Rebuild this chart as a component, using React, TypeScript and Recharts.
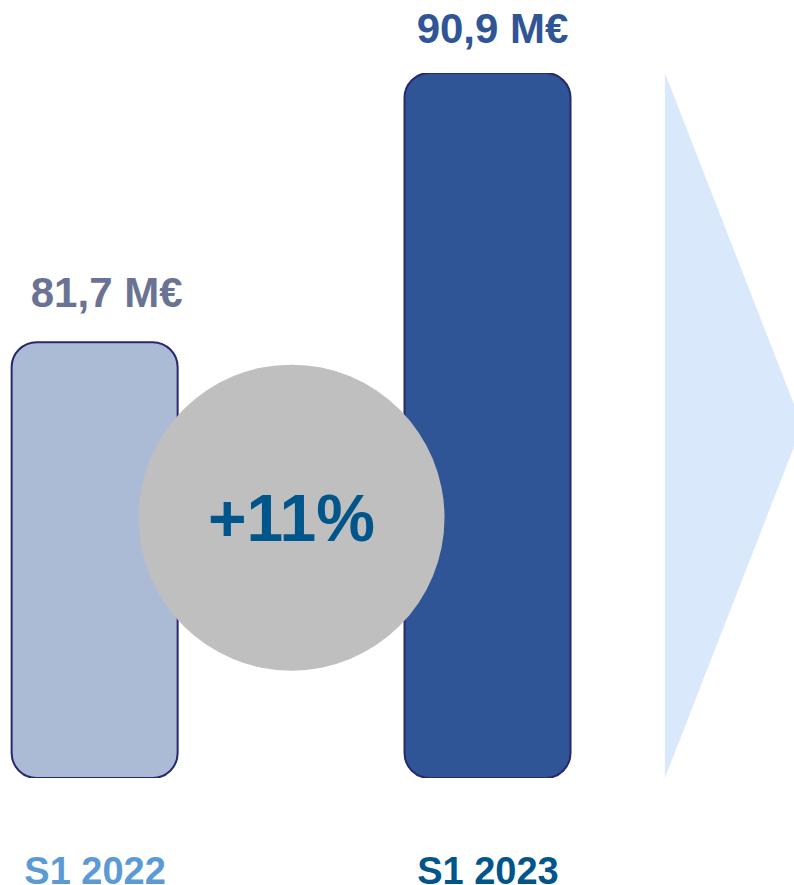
import React from 'react';
import { ComposedChart, Bar, Cell, XAxis, YAxis, ReferenceDot, ReferenceArea } from 'recharts';

const categories = ['S1 2022', 'S1 2023'];
const positions = [1, 2];
const values = [81.7, 90.9];
const valueLabels = ['81,7 M€', '90,9 M€'];
const growthLabel = '+11%';

const barFills = ['#abbbd6', '#2f5597'];
const valueLabelColors = ['#6b7394', '#2f5597'];
const categoryColors = ['#5b9bd5', '#00558b'];

const data = categories.map((c, i) => ({ name: c, x: positions[i], value: values[i], label: valueLabels[i] }));

const FONT = '"Liberation Sans", Arial, sans-serif';

const Triangle = (props: any) => {
  const { x, y, width, height } = props;
  const pts = `${x},${y} ${x + width},${y + height / 2} ${x},${y + height}`;
  return <polygon points={pts} fill="#dae8fc" stroke="none" />;
};

const CategoryTick = (props: any) => {
  const { x, y, payload } = props;
  const idx = positions.indexOf(payload.value);
  if (idx < 0) return null;
  return (
    <text x={x} y={y + 98} textAnchor="middle" fill={categoryColors[idx]} fontFamily={FONT} fontWeight="bold" fontSize={38}>
      {categories[idx]}
    </text>
  );
};

const ValueLabel = (props: any) => {
  const { x, y, width, index } = props;
  const dx = index === 0 ? 12 : 5;
  const dy = index === 0 ? -35 : -30;
  return (
    <text x={x + width / 2 + dx} y={y + dy} textAnchor="middle" fill={valueLabelColors[index]} fontFamily={FONT} fontWeight="bold" fontSize={42}>
      {valueLabels[index]}
    </text>
  );
};

export default function App() {
  return (
    <div style={{ position: 'absolute', left: 0, top: 0, width: 794, height: 885, background: '#fff' }}>
      <ComposedChart width={794} height={885} data={data} margin={{ top: 73, right: 0, bottom: 0, left: 0 }}>
        <XAxis
          type="number"
          dataKey="x"
          domain={[0.758, 2.779]}
          ticks={positions}
          axisLine={false}
          tickLine={false}
          height={107}
          tick={<CategoryTick />}
          allowDataOverflow
        />
        <YAxis type="number" domain={[66.8, 90.9]} hide allowDataOverflow />
        <ReferenceArea x1={2.4504} x2={2.8} y1={66.8} y2={90.9} ifOverflow="visible" shape={<Triangle />} />
        <Bar dataKey="value" barSize={166} radius={25} stroke="#28286e" strokeWidth={2} isAnimationActive={false} label={<ValueLabel />}>
          {data.map((d, i) => (
            <Cell key={d.name} fill={barFills[i]} />
          ))}
        </Bar>
        <ReferenceDot
          x={1.5}
          y={75.7}
          r={153}
          fill="#bfbfbf"
          stroke="none"
          ifOverflow="visible"
          label={{ value: growthLabel, position: 'center', fill: '#00558b', fontSize: 66, fontWeight: 'bold', fontFamily: FONT }}
        />
      </ComposedChart>
    </div>
  );
}
